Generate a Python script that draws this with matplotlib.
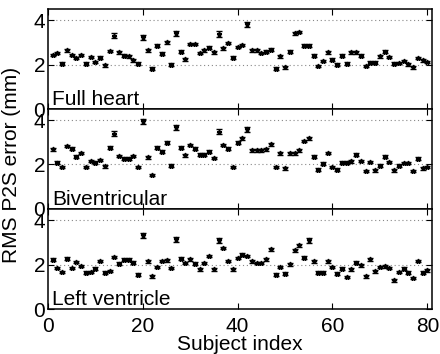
import matplotlib.pyplot as plt
import numpy as np

plt.rcParams['font.family'] = ['Liberation Sans', 'DejaVu Sans']

subjects = np.arange(1, 81)

full_heart = [2.44, 2.53, 2.04, 2.64, 2.44, 2.30, 2.44, 2.04, 2.34, 2.12,
              2.31, 1.97, 2.61, 3.30, 2.56, 2.41, 2.38, 2.19, 2.04, 3.23,
              2.64, 1.82, 2.86, 2.49, 3.01, 2.00, 3.41, 2.59, 2.24, 2.93,
              2.93, 2.52, 2.64, 2.77, 2.56, 3.38, 2.74, 2.98, 2.31, 2.80,
              2.89, 3.82, 2.64, 2.64, 2.53, 2.59, 2.68, 1.82, 2.37, 1.88,
              2.59, 3.41, 3.48, 2.86, 2.86, 2.41, 1.94, 2.16, 2.56, 2.22,
              2.00, 2.41, 2.04, 2.55, 2.55, 2.41, 1.94, 2.09, 2.09, 2.37,
              2.59, 2.34, 2.04, 2.07, 2.16, 2.01, 1.88, 2.30, 2.19, 2.12]

biventricular = [2.68, 2.08, 1.88, 2.83, 2.71, 2.36, 2.52, 1.88, 2.15, 2.08,
                 2.20, 1.91, 2.76, 3.39, 2.38, 2.26, 2.26, 2.39, 1.88, 3.94,
                 2.33, 1.52, 2.76, 2.58, 2.98, 1.95, 3.67, 2.76, 2.42, 2.88,
                 2.71, 2.45, 2.45, 2.58, 2.30, 3.48, 2.88, 2.71, 1.88, 2.98,
                 3.18, 3.59, 2.64, 2.64, 2.64, 2.68, 2.91, 1.89, 2.50, 1.82,
                 2.50, 2.50, 2.64, 3.06, 3.18, 2.35, 1.77, 2.03, 2.52, 1.88,
                 1.77, 2.08, 2.08, 2.14, 2.45, 2.15, 1.70, 2.11, 1.73, 1.94,
                 2.35, 2.11, 1.73, 1.95, 2.06, 2.06, 1.70, 2.27, 1.82, 1.88]

left_ventricle = [2.23, 1.85, 1.67, 2.27, 1.85, 2.12, 1.94, 1.64, 1.67, 1.82,
                  2.17, 1.64, 1.71, 2.35, 2.05, 2.23, 2.23, 2.09, 1.55, 3.32,
                  2.15, 1.47, 1.89, 2.17, 2.20, 1.85, 3.14, 2.27, 2.08, 2.24,
                  2.05, 1.79, 2.08, 2.39, 1.79, 3.10, 2.75, 2.17, 1.79, 2.30,
                  2.45, 2.39, 2.15, 2.08, 2.08, 2.24, 2.69, 1.55, 1.89, 1.59,
                  2.02, 2.65, 2.87, 2.32, 3.10, 2.15, 1.64, 1.64, 2.15, 1.89,
                  1.59, 1.82, 1.44, 1.79, 2.09, 1.97, 1.47, 2.24, 1.70, 1.89,
                  1.92, 1.85, 1.29, 1.67, 1.82, 1.64, 1.40, 2.17, 1.64, 1.74]

# larger standard errors for the outlier subjects
big_fh = [14, 20, 27, 36, 42]
big_bv = [14, 20, 27, 36, 42]
big_lv = [20, 27, 36, 55]

panels = [("Full heart", full_heart, big_fh),
          ("Biventricular", biventricular, big_bv),
          ("Left ventricle", left_ventricle, big_lv)]

fig = plt.figure(figsize=(4.4, 3.54), dpi=100)
bottoms = [0.692, 0.410, 0.127]
axes = []
for (name, vals, big), b in zip(panels, bottoms):
    ax = fig.add_axes([0.109, b, 0.873, 0.282])
    err = np.full(len(subjects), 0.06)
    for s in big:
        err[s - 1] = 0.12
    ax.errorbar(subjects, vals, yerr=err, fmt='*', color='k', ms=3.5,
                elinewidth=1, capsize=2, capthick=1)
    ax.set_xlim(0, 81)
    ax.set_ylim(0, 4.5)
    ax.set_yticks([0, 2, 4])
    ax.set_xticks([0, 20, 40, 60, 80])
    for yv in [2, 4]:
        ax.axhline(yv, color='#888888', ls=(0, (1, 2.5)), lw=0.8, zorder=0)
    ax.tick_params(direction='in', top=True, right=True, labelsize=15,
                   length=4, width=0.8, pad=2)
    ax.tick_params(axis='x', pad=6)
    for sp in ax.spines.values():
        sp.set_linewidth(1.1)
    ax.text(0.01, 0.0, name, transform=ax.transAxes, fontsize=15,
            va='bottom', ha='left')
    axes.append(ax)

for ax in axes[:2]:
    ax.tick_params(labelbottom=False)

axes[2].set_xlabel("Subject index", fontsize=15, labelpad=-1)
fig.text(0.027, 0.534, "RMS P2S error (mm)", rotation=90, fontsize=15,
         va='center', ha='center')

fig.savefig('out.png', dpi=100)
